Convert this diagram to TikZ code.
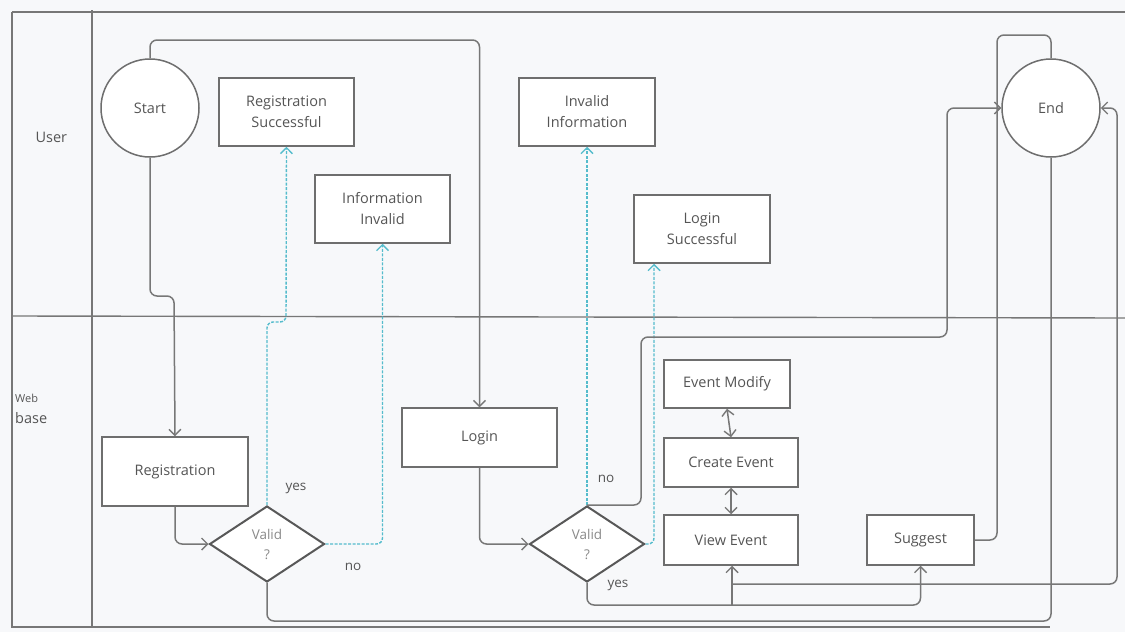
\documentclass[tikz,border=0pt]{standalone}
\usepackage{fontspec}
\setmainfont{Open Sans}
\usetikzlibrary{arrows.meta,shapes.geometric,calc}
\definecolor{bgc}{HTML}{F7F8FA}
\definecolor{linec}{HTML}{777777}
\definecolor{boxc}{HTML}{6E6E6E}
\definecolor{txtc}{HTML}{555555}
\definecolor{tealc}{HTML}{55BCCC}
\definecolor{dimtxt}{HTML}{8A8A8A}
\begin{document}
\begin{tikzpicture}[x=1pt,y=-1pt,
  every node/.style={font=\fontsize{14.5}{21}\selectfont, text=txtc},
  lane/.style={draw=linec, line width=1.4pt},
  proc/.style={draw=boxc, line width=1.5pt, fill=white, rectangle, align=center, inner sep=0pt},
  term/.style={draw=boxc, line width=1.5pt, fill=white, circle, minimum size=98pt, inner sep=0pt},
  decide/.style={draw=boxc!80!black, line width=2pt, fill=white, diamond, minimum width=115pt, minimum height=76pt, inner sep=0pt, align=center, text=dimtxt, font=\fontsize{13.5}{20}\selectfont},
  tip/.style={-{Straight Barb[length=6pt,width=12pt,line width=1.4pt]}},
  conn/.style={draw=linec, line width=1.5pt, rounded corners=7pt},
  flow/.style={conn, tip},
  both/.style={draw=linec, line width=1.5pt, {Straight Barb[length=6pt,width=12pt,line width=1.4pt]}-{Straight Barb[length=6pt,width=12pt,line width=1.4pt]}},
  hint/.style={draw=tealc, line width=1.4pt, dash pattern=on 3pt off 1.5pt, rounded corners=6pt, tip},
  tag/.style={font=\fontsize{13.5}{16}\selectfont, text=txtc}
]
\useasboundingbox (0,0) rectangle (1125,632);
\fill[bgc] (0,0) rectangle (1125,632);

% swimlane frame
\draw[lane] (12,12) -- (1125,12);
\draw[lane] (12,12) -- (12,627) -- (1050,627);
\draw[lane] (92,10) -- (92,627);
\draw[lane] (12,316) -- (1125,318);
\node[anchor=west] (lu) at (32,137) {User};
\node[anchor=west, font=\fontsize{11}{13}\selectfont, inner sep=0pt] (lw) at (15,398) {Web};
\node[anchor=west, inner sep=0pt] (lb) at (15,418) {base};

% nodes
\node[term] (start) at (150,108) {Start};
\node[term] (endc) at (1051,108) {End};
\node[proc, minimum width=135pt, minimum height=68pt] (regok) at (286.5,112) {Registration\\Successful};
\node[proc, minimum width=135pt, minimum height=68pt] (infoinv) at (382.5,209) {Information\\Invalid};
\node[proc, minimum width=136pt, minimum height=68pt] (invinfo) at (587,112) {Invalid\\Information};
\node[proc, minimum width=136pt, minimum height=68pt] (loginok) at (702,229) {Login\\Successful};
\node[proc, minimum width=146pt, minimum height=69pt] (reg) at (175,471.5) {Registration};
\node[proc, minimum width=155pt, minimum height=59pt] (login) at (479.5,437.5) {Login};
\node[decide] (v1) at (267,544) {Valid\\?};
\node[decide] (v2) at (587,544) {Valid\\?};
\node[proc, minimum width=126pt, minimum height=48pt] (emod) at (727,384) {Event Modify};
\node[proc, minimum width=134pt, minimum height=49pt] (cev) at (731,462.5) {Create Event};
\node[proc, minimum width=134pt, minimum height=50pt] (vev) at (731,540) {View Event};
\node[proc, minimum width=107pt, minimum height=50pt] (sug) at (920.5,540) {Suggest};

% main flow
\draw[flow] (start.north) -- (150,40) -| (login.north);
\draw[flow] (start.south) -- (150,296) -- (174,296) -- (reg.north);
\draw[flow] (reg.south) |- (v1.west);
\draw[flow] (login.south) |- (v2.west);

% registration check
\draw[hint] (v1.north) -- (267,322) -- (286,322) -- (regok.south);
\draw[hint] (v1.east) -| (infoinv.south);
\node[tag] (y1) at (296,488) {yes};
\node[tag] (n1) at (353,567) {no};
\draw[conn] (v1.south) -- (267,621) -- (1051,621) -- (endc.south);

% login check
\draw[hint] (v2.north) -- (invinfo.south);
\draw[hint] (v2.east) -- (654,544) -- (654,0 |- loginok.south);
\node[tag] (n2) at (606,479) {no};
\node[tag] (y2) at (618,585) {yes};
\draw[flow] (v2.north) -- (641,505) -- (641,337) -- (947,337) -- (947,108) -- (endc.west);
\draw[flow] (v2.south) -- (587,605) -| (sug.south);
\coordinate (jv) at (732,605);
\draw[draw=linec, line width=1.5pt, tip] (jv) -- (vev.south -| jv);
\coordinate (jr) at (732,584);
\draw[flow] (jr) -- (1117,584) -- (1117,108) -- (endc.east);
\draw[conn] (sug.east) -- (997,540) -- (997,35) -- (1051,35) -- (endc.north);

% event actions
\draw[both] (emod.south) -- (cev.north);
\draw[both] (cev.south) -- (vev.north);
\end{tikzpicture}
\end{document}
